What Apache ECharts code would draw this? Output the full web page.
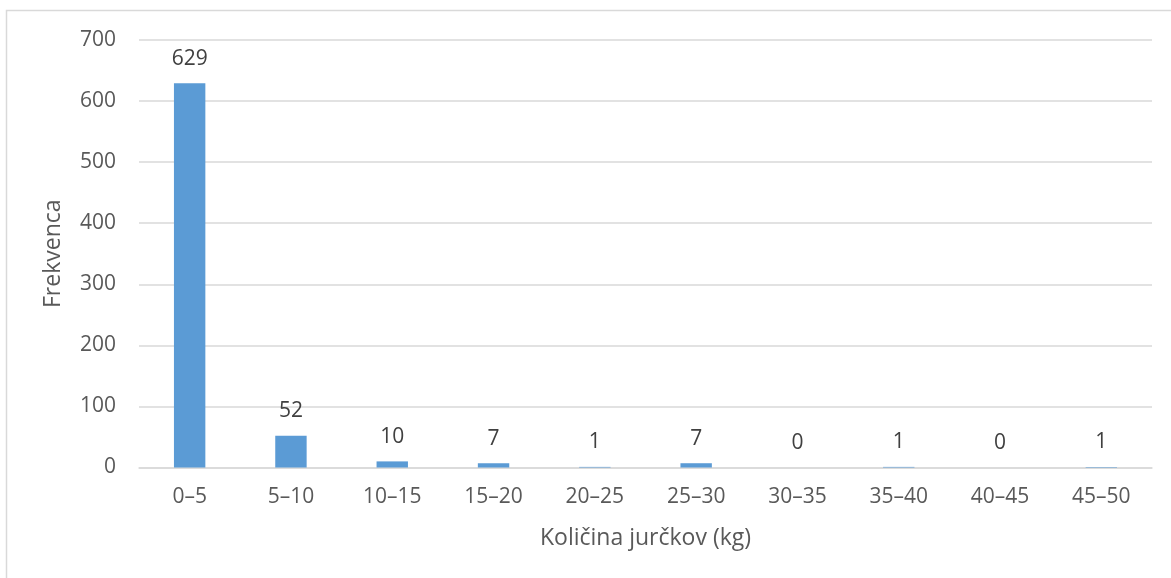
<!DOCTYPE html>
<html>
<head>
<meta charset="utf-8">
<script src="https://cdn.jsdelivr.net/npm/echarts@6/dist/echarts.min.js"></script>
<style>
  html, body { margin: 0; padding: 0; background: #fff; }
  #chart { width: 1171px; height: 578px; }
</style>
</head>
<body>
<div id="chart"></div>
<script>
const categories = ['0–5', '5–10', '10–15', '15–20', '20–25', '25–30', '30–35', '35–40', '40–45', '45–50']
const frequencies = [629, 52, 10, 7, 1, 7, 0, 1, 0, 1]
const yTicks = { min: 0, max: 700, interval: 100 }

const font = '"Open Sans", sans-serif'
const chart = echarts.init(document.getElementById('chart'))

chart.setOption({
  backgroundColor: '#fff',
  animation: false,
  graphic: [
    {
      type: 'rect',
      shape: { x: 6.5, y: 10.5, width: 1175, height: 600 },
      style: { fill: 'none', stroke: '#d9d9d9', lineWidth: 1.5 },
      silent: true,
    },
  ],
  grid: { left: 139, right: 19, top: 40, bottom: 110.5 },
  xAxis: {
    type: 'category',
    data: categories,
    name: 'Količina jurčkov (kg)',
    nameLocation: 'middle',
    nameGap: 59,
    nameTextStyle: { color: '#595959', fontSize: 23, fontFamily: font },
    axisLine: { lineStyle: { color: '#d9d9d9', width: 1.5 } },
    axisTick: { show: false },
    axisLabel: { color: '#595959', fontSize: 21, fontFamily: font, margin: 19 },
  },
  yAxis: {
    type: 'value',
    min: yTicks.min,
    max: yTicks.max,
    interval: yTicks.interval,
    name: 'Frekvenca',
    nameLocation: 'middle',
    nameGap: 74,
    nameTextStyle: { color: '#595959', fontSize: 23, fontFamily: font },
    axisLine: { show: false },
    axisTick: { show: false },
    axisLabel: { color: '#595959', fontSize: 21, fontFamily: font, margin: 23 },
    splitLine: { lineStyle: { color: '#d9d9d9', width: 1.5 } },
  },
  series: [
    {
      type: 'bar',
      data: frequencies,
      barWidth: '31%',
      itemStyle: { color: '#5b9bd5' },
      label: {
        show: true,
        position: 'top',
        distance: 14,
        color: '#404040',
        fontSize: 21,
        fontFamily: font,
      },
    },
  ],
})
</script>
</body>
</html>
